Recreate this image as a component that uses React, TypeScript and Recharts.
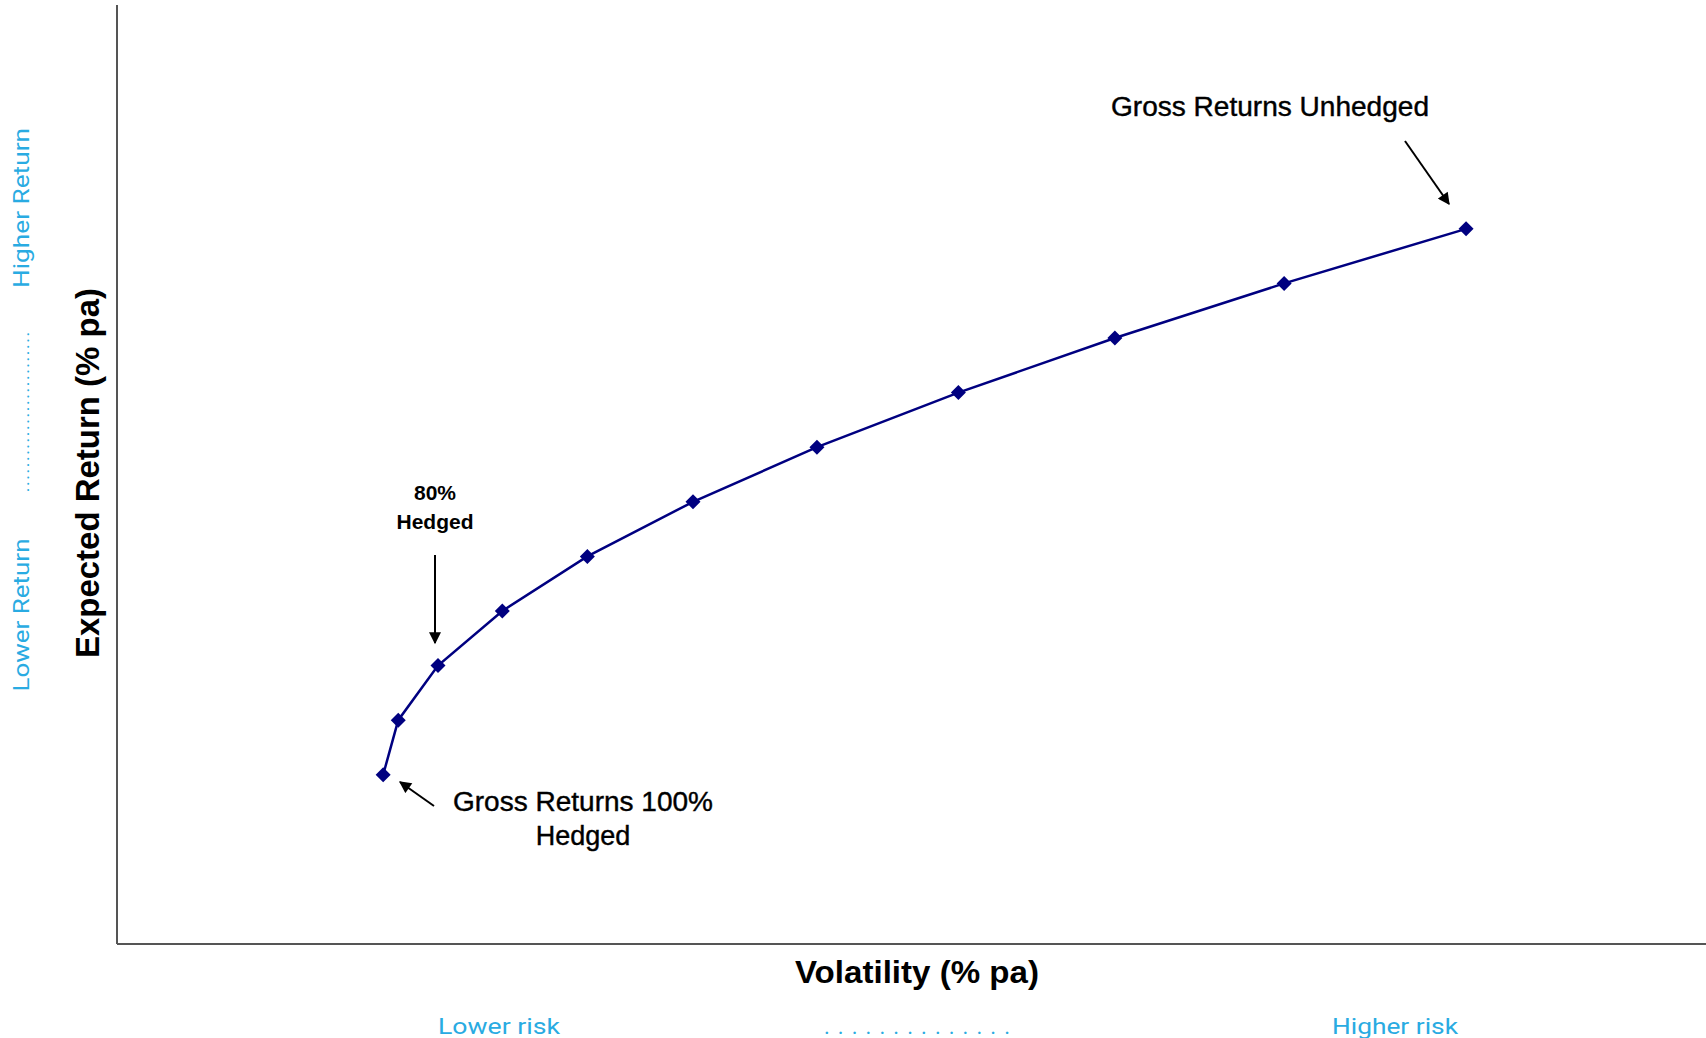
import React from 'react';
import { ComposedChart, Line, XAxis, YAxis, ReferenceLine } from 'recharts';

// hedge ratio for each point on the frontier (100% hedged -> unhedged)
const hedgeRatios = [100, 90, 80, 70, 60, 50, 40, 30, 20, 10, 0];
// volatility (% pa)
const volatility = [3.35, 3.54, 4.04, 4.85, 5.92, 7.25, 8.81, 10.59, 12.56, 14.69, 16.98];
// expected return (% pa)
const expectedReturn = [3.1, 4.1, 5.1, 6.1, 7.1, 8.1, 9.1, 10.1, 11.1, 12.1, 13.1];

const data = hedgeRatios.map((h, i) => ({ hedge: h, vol: volatility[i], ret: expectedReturn[i] }));

const W = 1706;
const H = 1038;
const NAVY = '#000080';
const BLUE = '#29ABE2';
const FONT = '"Liberation Sans", Arial, sans-serif';

function Diamond(props: any) {
  const { cx, cy } = props;
  if (cx == null || cy == null) return null;
  const r = 7.5;
  return <path d={`M${cx},${cy - r}L${cx + r},${cy}L${cx},${cy + r}L${cx - r},${cy}Z`} fill={NAVY} />;
}

function Arrow({ x1, y1, x2, y2 }: { x1: number; y1: number; x2: number; y2: number }) {
  return <line x1={x1} y1={y1} x2={x2} y2={y2} stroke="#000" strokeWidth={2} markerEnd="url(#arrowHead)" />;
}

function Overlay() {
  return (
    <svg width={W} height={H} style={{ position: 'absolute', left: 0, top: 0, pointerEvents: 'none' }}>
      <defs>
        <marker id="arrowHead" viewBox="0 0 10 10" refX="9" refY="5" markerWidth="14" markerHeight="12" orient="auto" markerUnits="userSpaceOnUse">
          <path d="M0,0L10,5L0,10Z" fill="#000" />
        </marker>
      </defs>

      {/* annotations */}
      <text x={1270} y={116} textAnchor="middle" fontFamily={FONT} fontSize={27} fill="#000" stroke="#000" strokeWidth={0.4}
        textLength={318} lengthAdjust="spacingAndGlyphs">Gross Returns Unhedged</text>
      <Arrow x1={1405} y1={141} x2={1449} y2={204} />

      <text x={435} y={500} textAnchor="middle" fontFamily={FONT} fontSize={21} fontWeight="bold" fill="#000">80%</text>
      <text x={435} y={529} textAnchor="middle" fontFamily={FONT} fontSize={21} fontWeight="bold" fill="#000">Hedged</text>
      <Arrow x1={435} y1={555} x2={435} y2={643} />

      <text x={583} y={811} textAnchor="middle" fontFamily={FONT} fontSize={27} fill="#000" stroke="#000" strokeWidth={0.4}
        textLength={260} lengthAdjust="spacingAndGlyphs">Gross Returns 100%</text>
      <text x={583} y={845} textAnchor="middle" fontFamily={FONT} fontSize={27} fill="#000" stroke="#000" strokeWidth={0.4}>Hedged</text>
      <Arrow x1={434} y1={806} x2={400} y2={782} />

      {/* axis titles */}
      <text x={917} y={983} textAnchor="middle" fontFamily={FONT} fontSize={32} fontWeight="bold" fill="#000"
        textLength={244} lengthAdjust="spacingAndGlyphs">Volatility (% pa)</text>
      <text x={0} y={0} transform="translate(99,473) rotate(-90)" textAnchor="middle" fontFamily={FONT} fontSize={33}
        fontWeight="bold" fill="#000" textLength={370} lengthAdjust="spacingAndGlyphs">Expected Return (% pa)</text>

      {/* risk / return hints */}
      <text x={499} y={1034} textAnchor="middle" fontFamily="Roboto, sans-serif" fontSize={22} fill={BLUE}
        textLength={122} lengthAdjust="spacingAndGlyphs">Lower risk</text>
      <text x={917} y={1034} textAnchor="middle" fontFamily="Roboto, sans-serif" fontSize={22} fill={BLUE}
        textLength={186} lengthAdjust="spacing">. . . . . . . . . . . . . .</text>
      <text x={1395} y={1034} textAnchor="middle" fontFamily="Roboto, sans-serif" fontSize={22} fill={BLUE}
        textLength={126} lengthAdjust="spacingAndGlyphs">Higher risk</text>

      <text x={0} y={0} transform="translate(29,208) rotate(-90)" textAnchor="middle" fontFamily="Roboto, sans-serif"
        fontSize={22} fill={BLUE} textLength={160} lengthAdjust="spacingAndGlyphs">Higher Return</text>
      <text x={0} y={0} transform="translate(29,412) rotate(-90)" textAnchor="middle" fontFamily="Roboto, sans-serif"
        fontSize={16} fill={BLUE} textLength={160} lengthAdjust="spacing">..........................</text>
      <text x={0} y={0} transform="translate(29,615) rotate(-90)" textAnchor="middle" fontFamily="Roboto, sans-serif"
        fontSize={22} fill={BLUE} textLength={153} lengthAdjust="spacingAndGlyphs">Lower Return</text>
    </svg>
  );
}

export default function App() {
  return (
    <div style={{ position: 'relative', width: W, height: H, background: '#fff' }}>
      <style>{'body{margin:0}'}</style>
      <ComposedChart width={W} height={H} data={data} margin={{ top: 5, right: 0, left: 117, bottom: 94 }}>
        <XAxis type="number" dataKey="vol" domain={[0, 20]} height={0} tick={false} tickLine={false} axisLine={false} />
        <YAxis type="number" domain={[0, 17.2]} width={0} tick={false} tickLine={false} axisLine={false} />
        <ReferenceLine x={0} stroke="#555" strokeWidth={2} ifOverflow="extendDomain" />
        <ReferenceLine y={0} stroke="#555" strokeWidth={2} ifOverflow="extendDomain" />
        <Line type="linear" dataKey="ret" stroke={NAVY} strokeWidth={2.5} dot={<Diamond />} activeDot={false}
          isAnimationActive={false} />
      </ComposedChart>
      <Overlay />
    </div>
  );
}
